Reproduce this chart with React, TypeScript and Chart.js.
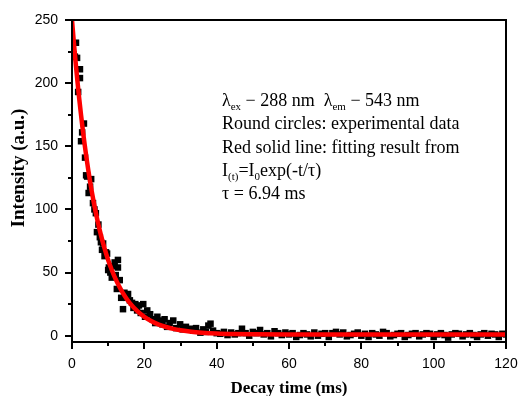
import React, { useEffect, useRef } from "react";
import { Chart, registerables } from "chart.js";
Chart.register(...registerables);

const decayTimeEarly = [0.4, 0.8, 1.1, 1.4, 1.7, 2.2, 2.2, 2.5, 2.8, 3.3, 3.6, 3.9, 4.2, 4.6, 5.0, 5.3, 5.8, 6.2, 6.6, 6.9, 7.3, 7.7, 8.0, 8.3, 8.6, 9.0, 9.4, 9.7, 10.0, 10.2, 10.6, 11.0, 11.4, 11.8, 12.1, 12.4, 12.7, 12.7, 13.2, 13.6, 14.1, 14.5, 15.0, 15.5, 16.0, 16.6, 17.0, 17.5, 18.0, 18.5, 19.0, 19.7, 20.2, 20.8, 21.6, 22.3, 23.0, 23.6, 24.2, 25.0, 25.6, 26.3, 27.0, 28.0, 28.8, 29.9, 30.6, 31.5, 32.7, 33.5, 34.3, 35.5, 36.3, 37.0, 37.7, 38.3, 39.0];
const intensityEarly = [223, 221, 232, 220, 193, 211, 204, 154, 161, 168, 141, 127, 126, 113, 118, 124, 105, 100, 97, 82, 88, 78, 74, 68, 73, 63, 66, 65, 52, 54, 50, 46, 55, 58, 48, 37, 60, 54, 44, 30, 21, 34, 30, 33, 28, 26, 22, 25, 20, 24, 18, 25, 15, 20, 17, 13, 10, 15, 12, 9, 13, 7, 10, 12, 6, 9, 5, 7, 5.5, 4, 6, 2.4, 5, 3, 8, 9.5, 4];
const decayTimeLate = [40, 41, 42, 43, 44, 45, 46, 47, 48, 49, 50, 51, 52, 53, 54, 55, 56, 57, 58, 59, 60, 61, 62, 63, 64, 65, 66, 67, 68, 69, 70, 71, 72, 73, 74, 75, 76, 77, 78, 79, 80, 81, 82, 83, 84, 85, 86, 87, 88, 89, 90, 91, 92, 93, 94, 95, 96, 97, 98, 99, 100, 101, 102, 103, 104, 105, 106, 107, 108, 109, 110, 111, 112, 113, 114, 115, 116, 117, 118, 119, 120];
const intensityLate = [2, 1.5, 3, 0.5, 2.5, 1, 2, 5.5, 2, 0, 3, 2, 4.5, 1, 2, -0.5, 3.5, 2, 0.5, 2.5, 1, 2, -1, 0.5, 2, 1, -0.5, 2.5, 0, 1.5, 2, -1, 2, 3, 1, 2.5, -0.5, 0.5, 1.5, 2.5, 0, 1.5, -1, 2, 1, 0, 3, 2, -0.5, 0.5, 1.5, 2, -1, 0.5, 1.5, 2, -0.5, 1, 2, 1.5, -1, 1, 2, 0.5, -1.5, 1, 2, 1.5, -0.5, 1, 2, 0.5, -1, 1, 2, 0, 1.5, 1, -1, 1.5, 1];

// Fitting curve
const fitTime = [0, 0.5, 1, 1.5, 2, 2.5, 3, 3.5, 4, 4.5, 5, 6, 7, 8, 9, 10, 11, 12, 13, 14, 15, 16, 18, 20, 22, 24, 26, 28, 30, 33, 36, 40, 45, 50, 60, 80, 100, 120];
const fitIntensity = [250, 232.7, 216.6, 201.6, 187.6, 174.7, 162.6, 151.4, 140.9, 131.2, 122.1, 105.9, 91.8, 79.6, 69.1, 59.9, 52.0, 45.2, 39.3, 34.1, 29.7, 25.8, 19.6, 14.9, 11.5, 8.8, 6.9, 5.4, 4.3, 3.1, 2.4, 1.8, 1.4, 1.2, 1.0, 1.0, 1.0, 1.0];

// Axes
const xTicks = [0, 20, 40, 60, 80, 100, 120];
const xMinorTicks = [10, 30, 50, 70, 90, 110];
const yTicks = [0, 50, 100, 150, 200, 250];
const yMinorTicks = [25, 75, 125, 175, 225];
const xTitle = "Decay time (ms)";
const yTitle = "Intensity (a.u.)";

const SERIF = "'Liberation Serif', 'Times New Roman', serif";

const decorPlugin = {
  id: "decor",
  afterDatasetsDraw(chart: any) {
    const ctx = chart.ctx as CanvasRenderingContext2D;
    const { left, right, top, bottom } = chart.chartArea;
    const xs = chart.scales.x;
    const ys = chart.scales.y;
    ctx.save();
    ctx.strokeStyle = "#000";
    ctx.lineWidth = 2;
    ctx.strokeRect(left, top, right - left, bottom - top);
    ctx.beginPath();
    xTicks.forEach((v) => {
      const p = Math.round(xs.getPixelForValue(v));
      ctx.moveTo(p, bottom);
      ctx.lineTo(p, bottom + 7);
    });
    xMinorTicks.forEach((v) => {
      const p = Math.round(xs.getPixelForValue(v));
      ctx.moveTo(p, bottom);
      ctx.lineTo(p, bottom + 4);
    });
    yTicks.forEach((v) => {
      const p = Math.round(ys.getPixelForValue(v));
      ctx.moveTo(left, p);
      ctx.lineTo(left - 7, p);
    });
    yMinorTicks.forEach((v) => {
      const p = Math.round(ys.getPixelForValue(v));
      ctx.moveTo(left, p);
      ctx.lineTo(left - 4, p);
    });
    ctx.stroke();

    // axis titles
    ctx.fillStyle = "#000";
    ctx.font = `bold 17px ${SERIF}`;
    ctx.textAlign = "center";
    ctx.textBaseline = "alphabetic";
    ctx.fillText(xTitle, (left + right) / 2, 393);
    ctx.save();
    ctx.translate(24, 168);
    ctx.rotate(-Math.PI / 2);
    ctx.font = `bold 19px ${SERIF}`;
    ctx.fillText(yTitle, 0, 0);
    ctx.restore();

    // annotation text
    ctx.textAlign = "left";
    const x0 = 222;
    const base = 106;
    const step = 23.3;
    const big = `18px ${SERIF}`;
    const small = `11px ${SERIF}`;
    const drawRuns = (runs: [string, boolean][], y: number) => {
      let x = x0;
      runs.forEach(([t, sub]) => {
        ctx.font = sub ? small : big;
        ctx.fillText(t, x, sub ? y + 4 : y);
        x += ctx.measureText(t).width;
      });
    };
    drawRuns([["λ", false], ["ex", true], [" − 288 nm  λ", false], ["em", true], [" − 543 nm", false]], base);
    drawRuns([["Round circles: experimental data", false]], base + step);
    drawRuns([["Red solid line: fitting result from", false]], base + step * 2);
    drawRuns([["I", false], ["(t)", true], ["=I", false], ["0", true], ["exp(-t/τ)", false]], base + step * 3);
    drawRuns([["τ = 6.94 ms", false]], base + step * 4);
    ctx.restore();
  },
};

export default function App() {
  const ref = useRef<HTMLCanvasElement>(null);
  useEffect(() => {
    if (!ref.current) return;
    const scatterData = [
      ...decayTimeEarly.map((x, i) => ({ x, y: intensityEarly[i] })),
      ...decayTimeLate.map((x, i) => ({ x, y: intensityLate[i] })),
    ];
    const fitData = fitTime.map((x, i) => ({ x, y: fitIntensity[i] }));
    const chart = new Chart(ref.current, {
      type: "scatter",
      data: {
        datasets: [
          {
            label: "Fit",
            data: fitData,
            showLine: true,
            borderColor: "#ff0000",
            backgroundColor: "#ff0000",
            borderWidth: 4.5,
            pointRadius: 0,
            cubicInterpolationMode: "monotone",
            order: 0,
          } as any,
          {
            label: "Experimental",
            data: scatterData,
            pointStyle: "rect",
            pointRadius: 4.6,
            borderWidth: 0,
            backgroundColor: "#000",
            borderColor: "#000",
            order: 1,
          },
        ],
      },
      options: {
        responsive: false,
        animation: false,
        devicePixelRatio: 1,
        layout: { padding: { top: 20, right: 12, left: 0, bottom: 0 } },
        plugins: { legend: { display: false }, tooltip: { enabled: false } },
        scales: {
          x: {
            type: "linear",
            min: 0,
            max: 120,
            grid: { display: false, drawTicks: false },
            border: { display: false },
            ticks: {
              color: "#000",
              padding: 14,
              maxRotation: 0,
              font: { family: "'Liberation Sans', Arial, sans-serif", size: 14 },
            },
            afterBuildTicks: (s: any) => {
              s.ticks = xTicks.map((v) => ({ value: v }));
            },
            afterFit: (s: any) => {
              s.height = 54;
              s.paddingLeft = 0;
              s.paddingRight = 0;
            },
          },
          y: {
            type: "linear",
            min: -5,
            max: 250,
            grid: { display: false, drawTicks: false },
            border: { display: false },
            ticks: {
              color: "#000",
              padding: 14,
              font: { family: "'Liberation Sans', Arial, sans-serif", size: 14 },
            },
            afterBuildTicks: (s: any) => {
              s.ticks = yTicks.map((v) => ({ value: v }));
            },
            afterFit: (s: any) => {
              s.width = 72;
              s.paddingTop = 0;
              s.paddingBottom = 0;
            },
          },
        },
      },
      plugins: [decorPlugin],
    });
    return () => chart.destroy();
  }, []);
  return (
    <div style={{ position: "absolute", left: 0, top: 0, width: 518, height: 396, background: "#fff" }}>
      <canvas ref={ref} width={518} height={396} style={{ display: "block" }} />
    </div>
  );
}
